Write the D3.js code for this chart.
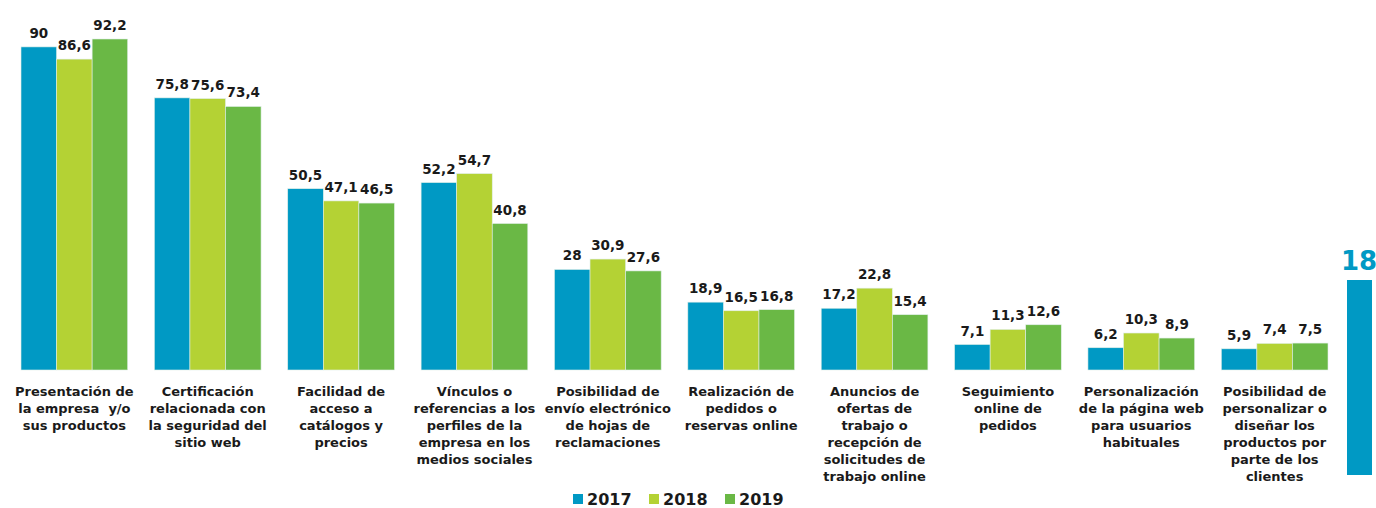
<!DOCTYPE html>
<html><head><meta charset="utf-8">
<script src="https://cdn.jsdelivr.net/npm/d3@7"></script>
<style>body{margin:0;background:#fff}svg{display:block}</style>
</head><body>
<script>
const categories = [
  ["Presentación de","la empresa  y/o","sus productos"],
  ["Certificación","relacionada con","la seguridad del","sitio web"],
  ["Facilidad de","acceso a","catálogos y","precios"],
  ["Vínculos o","referencias a los","perfiles de la","empresa en los","medios sociales"],
  ["Posibilidad de","envío electrónico","de hojas de","reclamaciones"],
  ["Realización de","pedidos o","reservas online"],
  ["Anuncios de","ofertas de","trabajo o","recepción de","solicitudes de","trabajo online"],
  ["Seguimiento","online de","pedidos"],
  ["Personalización","de la página web","para usuarios","habituales"],
  ["Posibilidad de","personalizar o","diseñar los","productos por","parte de los","clientes"]
];
const seriesNames = ["2017","2018","2019"];
const v2017 = [90,75.8,50.5,52.2,28,18.9,17.2,7.1,6.2,5.9];
const v2018 = [86.6,75.6,47.1,54.7,30.9,16.5,22.8,11.3,10.3,7.4];
const v2019 = [92.2,73.4,46.5,40.8,27.6,16.8,15.4,12.6,8.9,7.5];
const colors = ["#0099c4","#b4d234","#6ab845"];
const pageNumber = "18";

const W=1376,H=508;
const svg=d3.select("body").append("svg").attr("width",W).attr("height",H);
const font="'DejaVu Sans', Verdana, sans-serif";
const series=[v2017,v2018,v2019];

const x0=d3.scaleBand().domain(d3.range(categories.length)).range([21,1328]).paddingInner(0.2).paddingOuter(0);
const x1=d3.scaleBand().domain(d3.range(3)).range([0,x0.bandwidth()]);
const y=d3.scaleLinear().domain([0,100]).range([370,11]);

const g=svg.append("g");
categories.forEach((c,i)=>{
  const grp=g.append("g").attr("transform",`translate(${x0(i)},0)`);
  series.forEach((s,k)=>{
    grp.append("rect").attr("x",x1(k)).attr("width",x1.bandwidth())
      .attr("y",y(s[i])).attr("height",y(0)-y(s[i]))
      .attr("fill",colors[k]).attr("stroke","#dfeee8").attr("stroke-width",0.6);
    grp.append("text").attr("x",x1(k)+x1.bandwidth()/2).attr("y",y(s[i])-9)
      .attr("text-anchor","middle").attr("font-family",font).attr("font-weight","bold")
      .attr("font-size",13.5).attr("fill","#1a1a1a")
      .text(String(s[i]).replace(".",","));
  });
  const t=grp.append("text").attr("text-anchor","middle").attr("font-family",font)
    .attr("font-weight","bold").attr("font-size",13).attr("fill","#1a1a1a")
    .style("white-space","pre");
  c.forEach((line,j)=>{
    t.append("tspan").attr("x",x0.bandwidth()/2).attr("y",396+j*17).text(line);
  });
});

// legend
const leg=svg.append("g");
const legX=[573,649,725];
seriesNames.forEach((n,k)=>{
  leg.append("rect").attr("x",legX[k]).attr("y",494).attr("width",10).attr("height",10).attr("fill",colors[k]);
  leg.append("text").attr("x",legX[k]+14).attr("y",505).attr("font-family",font).attr("font-weight","bold")
    .attr("font-size",16).attr("fill","#1a1a1a").text(n);
});

// page number decoration
svg.append("rect").attr("x",1347).attr("y",280).attr("width",25).attr("height",195).attr("fill","#0099c4");
svg.append("text").attr("x",1341).attr("y",270).attr("font-family",font).attr("font-weight","bold")
  .attr("font-size",26).attr("fill","#0099c4").text(pageNumber);
</script>
</body></html>
